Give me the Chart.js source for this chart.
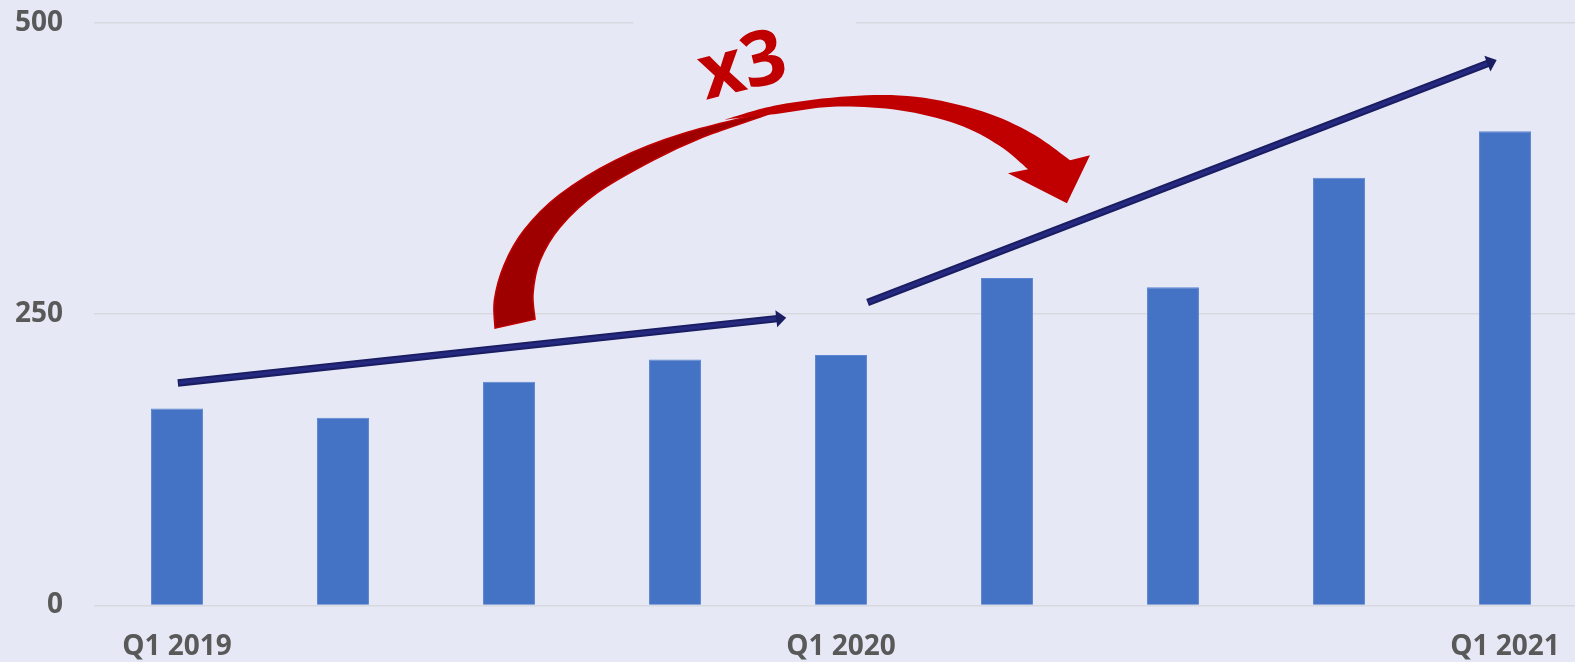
<!DOCTYPE html>
<html>
<head>
<meta charset="utf-8">
<script src="https://cdn.jsdelivr.net/npm/chart.js@4/dist/chart.umd.min.js"></script>
<style>
body{margin:0;background:#e6e9f5;overflow:hidden;}
#wrap{width:1588px;height:662px;overflow:hidden;}
</style>
</head>
<body>
<div id="wrap"><canvas id="growthChart" width="1588" height="662"></canvas></div>
<script>
const quarters=['Q1 2019','Q2 2019','Q3 2019','Q4 2019','Q1 2020','Q2 2020','Q3 2020','Q4 2020','Q1 2021'];
const values=[169,161,192,211,215,281,273,367,407];
const yTicks=[0,250,500];

// annotation shapes, given as [category index, value]
const trendArrows=[
    {from:[0.005,191],to:[3.67,247]},
    {from:[4.16,260],to:[7.95,468]}
];
const curveBackOuter=[[1.916,238],[1.912,262],[1.970,292],[2.090,322],[2.300,352],[2.640,382],[3.050,405],[3.578,423]];
const curveBackInner=[[3.169,402],[2.867,382],[2.530,354],[2.307,324.6],[2.187,296],[2.145,268],[2.157,245.7]];
const curveFrontTop=[[3.300,417],[3.620,429.5],[4.050,437],[4.450,436.5],[4.850,424],[5.150,405],[5.380,382.1]];
const curveFrontHead=[[5.5,386.4],[5.361,345.2],[5.006,370.9],[5.127,374.4]];
const curveFrontBottom=[[4.950,395],[4.700,413],[4.350,425],[3.950,428],[3.620,422],[3.300,417]];
const timesText='x3';
const timesAt=[3.41,461];
const labelGap=[2.75,4.09];

const bg='#e6e9f5';
const plotTop=22.5;

function spline(ctx,pts){
    for(let i=0;i<pts.length-1;i++){
        let p0=pts[i-1]||pts[i], p1=pts[i], p2=pts[i+1], p3=pts[i+2]||pts[i+1];
        ctx.bezierCurveTo(
            p1[0]+(p2[0]-p0[0])/6, p1[1]+(p2[1]-p0[1])/6,
            p2[0]-(p3[0]-p1[0])/6, p2[1]-(p3[1]-p1[1])/6,
            p2[0], p2[1]);
    }
}

function drawArrow(ctx,a,b){
    let ang=Math.atan2(b[1]-a[1],b[0]-a[0]);
    let c=Math.cos(ang), s=Math.sin(ang);
    let headLen=10, headW=8.5;
    let base=[b[0]-headLen*c,b[1]-headLen*s];
    ctx.lineCap='butt';
    ctx.beginPath();ctx.moveTo(a[0],a[1]);ctx.lineTo(base[0]+c,base[1]+s);
    ctx.strokeStyle='#1a1d62';ctx.lineWidth=7.5;ctx.stroke();
    ctx.beginPath();ctx.moveTo(a[0]+c,a[1]+s);ctx.lineTo(base[0],base[1]);
    ctx.strokeStyle='#252a80';ctx.lineWidth=3.5;ctx.stroke();
    ctx.beginPath();
    ctx.moveTo(b[0],b[1]);
    ctx.lineTo(base[0]-headW*s,base[1]+headW*c);
    ctx.lineTo(base[0]+headW*s,base[1]-headW*c);
    ctx.closePath();
    ctx.fillStyle='#1a1d62';ctx.fill();
}

const annotations={
    id:'annotations',
    afterDatasetsDraw(chart){
        const ctx=chart.ctx;
        const xs=chart.scales.x, ys=chart.scales.y;
        const P=p=>[xs.getPixelForValue(p[0]),ys.getPixelForValue(p[1])];
        ctx.save();

        // box behind the "x3" text hides the gridline
        let g0=P([labelGap[0],500]), g1=P([labelGap[1],500]);
        ctx.fillStyle=bg;
        ctx.fillRect(g0[0],g0[1]-6,g1[0]-g0[0],12);

        trendArrows.forEach(t=>drawArrow(ctx,P(t.from),P(t.to)));

        // curved red arrow: back part
        let back=curveBackOuter.concat(curveBackInner).map(P);
        ctx.beginPath();
        ctx.moveTo(back[0][0],back[0][1]);
        spline(ctx,back);
        ctx.closePath();
        ctx.fillStyle='#9e0000';ctx.fill();
        ctx.strokeStyle='#c00000';ctx.lineWidth=1.5;ctx.stroke();

        // front part with head
        let top=curveFrontTop.map(P), head=curveFrontHead.map(P), bottom=curveFrontBottom.map(P);
        ctx.beginPath();
        ctx.moveTo(top[0][0],top[0][1]);
        spline(ctx,top);
        head.forEach(p=>ctx.lineTo(p[0],p[1]));
        spline(ctx,[head[head.length-1]].concat(bottom));
        ctx.closePath();
        ctx.fillStyle='#c00000';ctx.fill();

        // x3 label
        let tp=P(timesAt);
        ctx.translate(tp[0],tp[1]);
        ctx.rotate(-14*Math.PI/180);
        ctx.font='bold 76px "Open Sans"';
        ctx.fillStyle='#c00000';
        ctx.textAlign='center';
        ctx.textBaseline='middle';
        ctx.fillText(timesText,0,0);
        ctx.restore();
    }
};

const tickFont={family:'"Open Sans"',weight:'bold',size:28};
const canvas=document.getElementById('growthChart');

function build(height){
    canvas.width=1588;
    canvas.height=height;
    return new Chart(canvas.getContext('2d'),{
        type:'bar',
        data:{
            labels:quarters,
            datasets:[{
                data:values,
                backgroundColor:'#4472c4',
                borderColor:'#5c86d2',
                borderWidth:1,
                barPercentage:0.313,
                categoryPercentage:1
            }]
        },
        options:{
            responsive:false,
            maintainAspectRatio:false,
            animation:false,
            devicePixelRatio:1,
            layout:{padding:0},
            plugins:{legend:{display:false},tooltip:{enabled:false}},
            scales:{
                x:{
                    grid:{display:false},
                    border:{display:false},
                    ticks:{
                        autoSkip:false,
                        maxRotation:0,
                        padding:17,
                        color:'#595959',
                        font:tickFont,
                        callback:function(v,i){
                            let l=quarters[i];
                            return l.startsWith('Q1')?l:'';
                        }
                    },
                    afterFit:function(scale){scale.height=56.5;}
                },
                y:{
                    min:0,
                    max:500,
                    border:{display:false},
                    grid:{color:'#d8d9df',lineWidth:1.5,drawTicks:false},
                    ticks:{
                        stepSize:250,
                        padding:31,
                        color:'#595959',
                        font:tickFont,
                        callback:v=>yTicks.includes(v)?String(v):''
                    },
                    afterFit:function(scale){scale.width=94;}
                }
            }
        },
        plugins:[annotations]
    });
}

// the top label padding pushes the plot down; build once to measure it,
// then rebuild taller and lift the canvas so 500 sits at the top line
let growthChart=build(662);
let extra=growthChart.chartArea.top-plotTop;
if(extra>0){
    growthChart.destroy();
    growthChart=build(Math.round(662+extra));
    canvas.style.marginTop=(plotTop-growthChart.chartArea.top)+'px';
}
</script>
</body>
</html>
